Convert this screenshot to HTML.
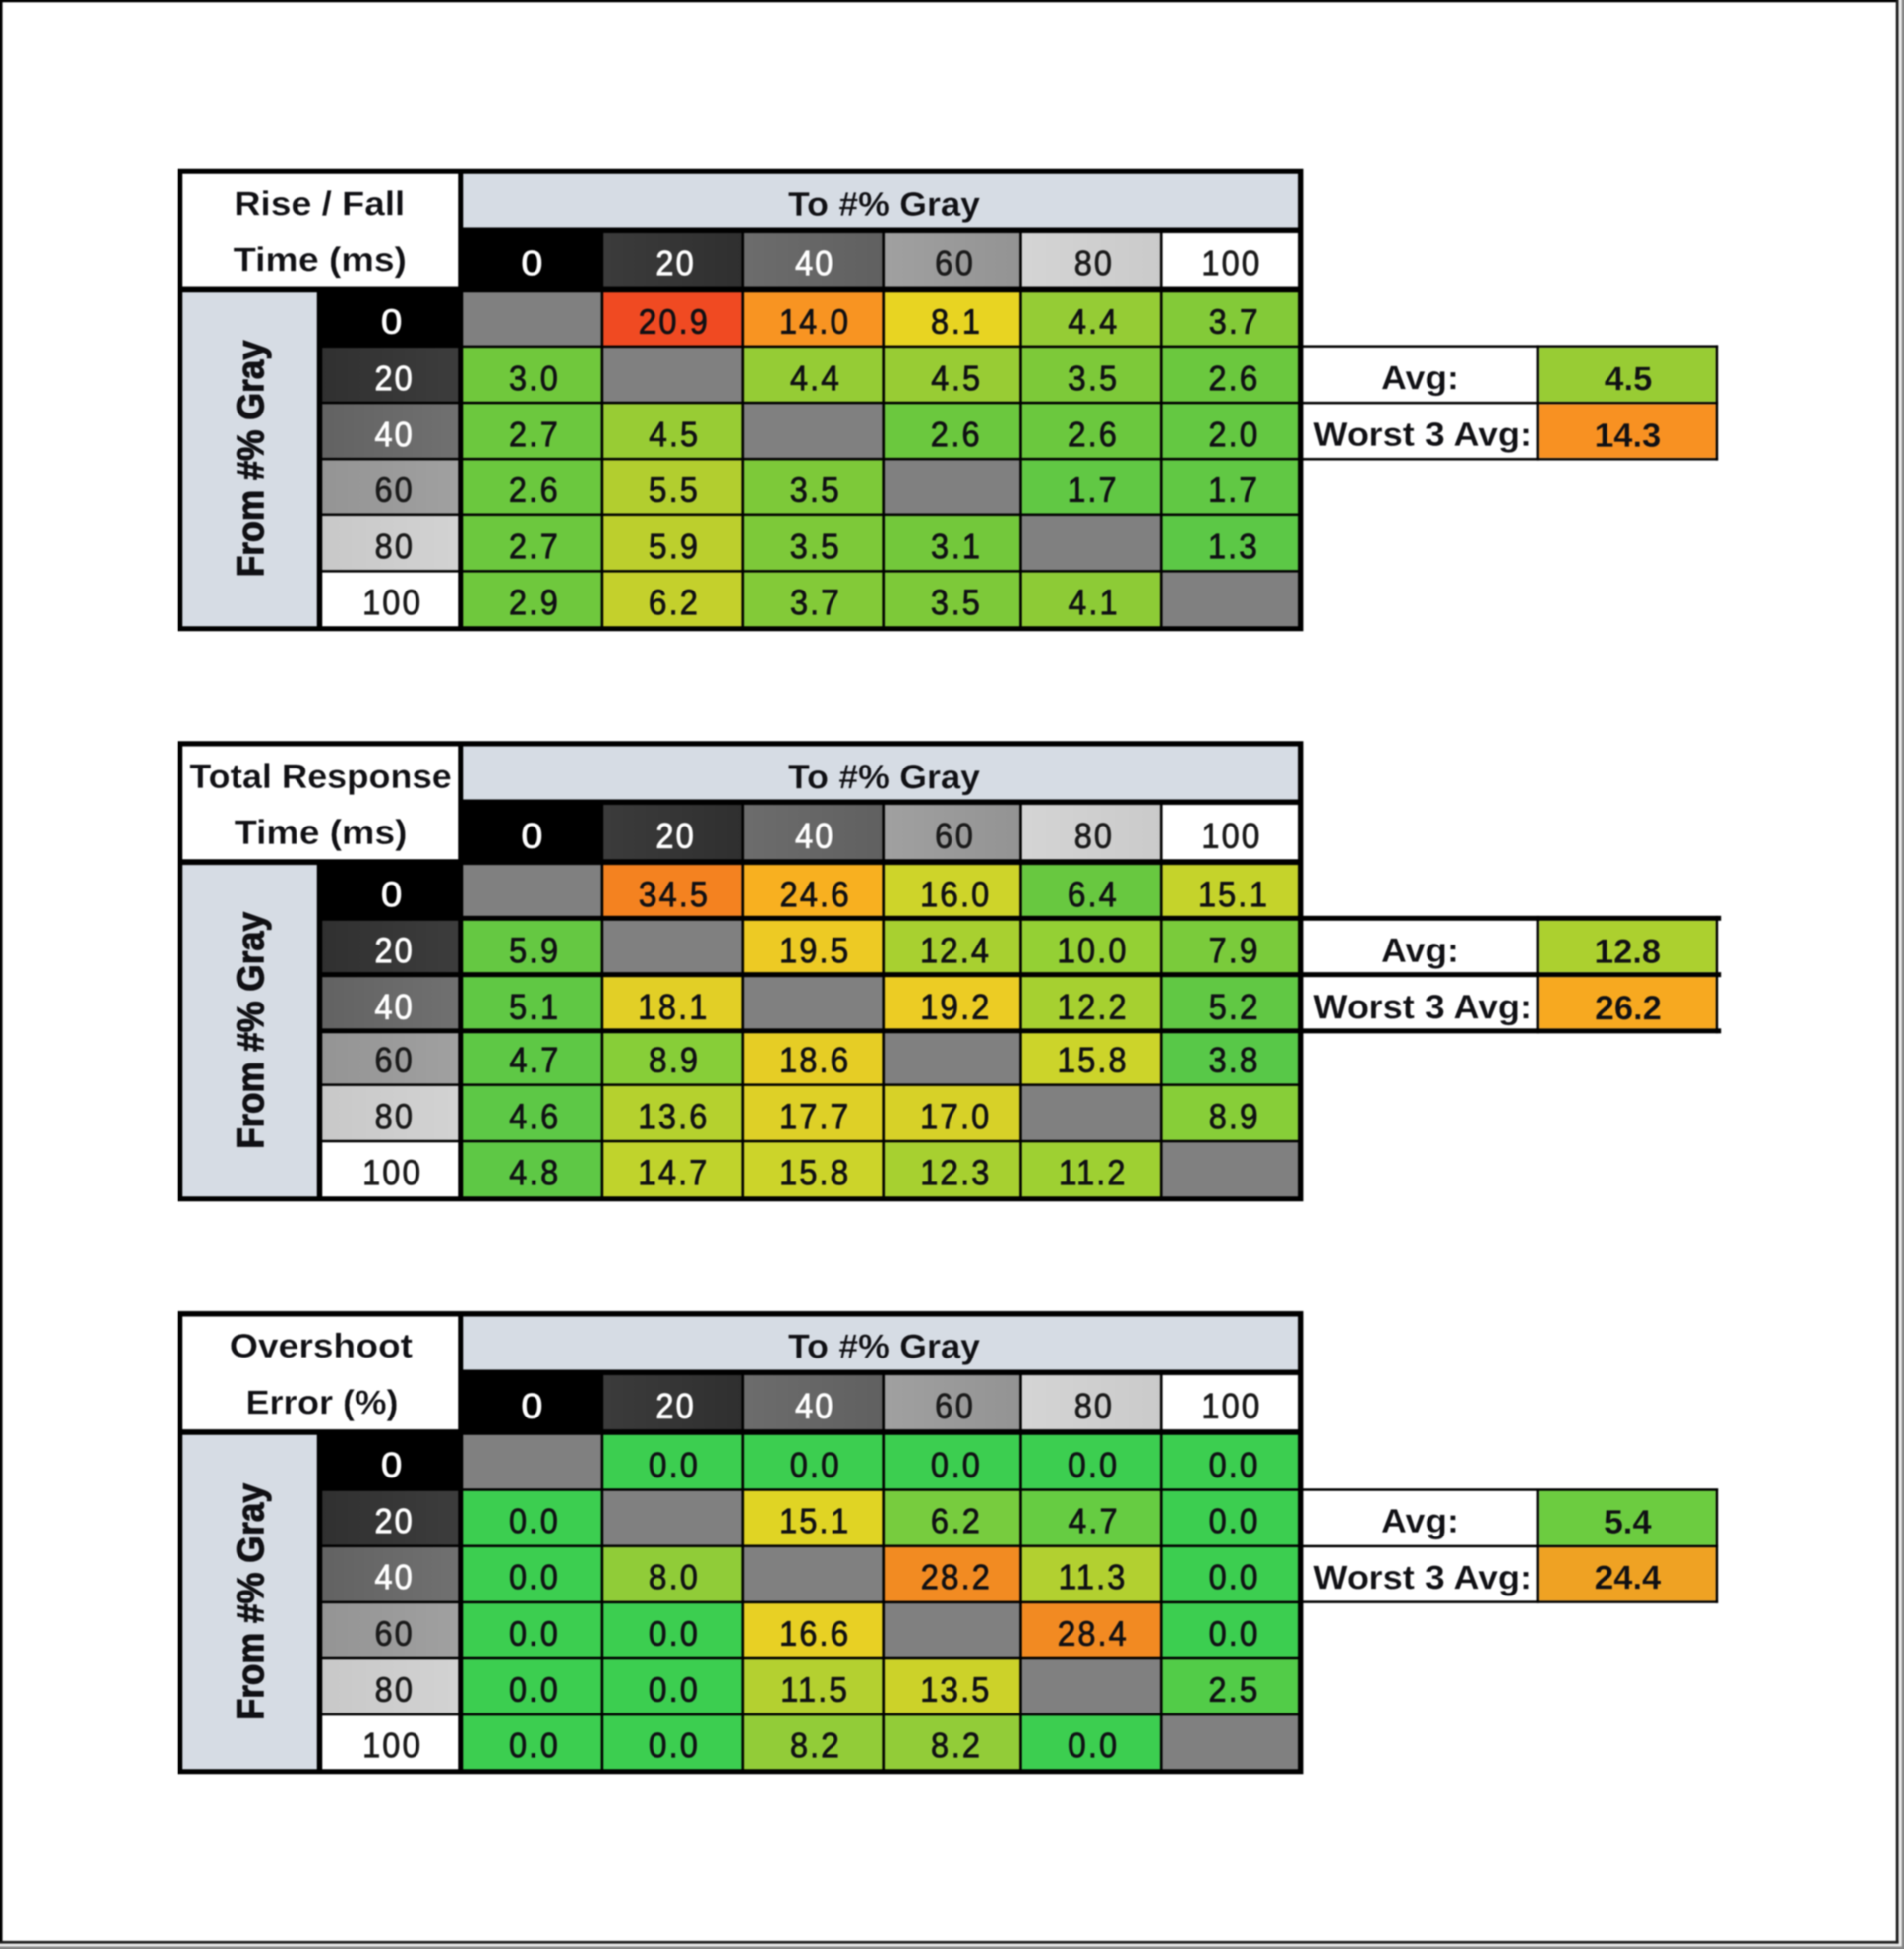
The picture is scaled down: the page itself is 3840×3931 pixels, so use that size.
<!DOCTYPE html>
<html><head><meta charset="utf-8"><title>Response time tables</title>
<style>
html,body{margin:0;padding:0;background:#fff;}
html,body{width:3840px;height:3931px;overflow:hidden;}
#sheet{position:absolute;left:0;top:0;width:3840px;height:3931px;overflow:hidden;background:#fff;}
svg{position:absolute;left:-40px;top:-40px;display:block;filter:blur(1.6px);}
text{font-family:"Liberation Sans",Arial,sans-serif;}
</style></head><body>
<div id="sheet">
<svg width="3920" height="4011" viewBox="-40 -40 3920 4011">
<rect x="-40" y="-40" width="3920" height="4011" fill="#FFFFFF"/>
<!-- frame -->
<rect x="3829" y="-40" width="51" height="4011" fill="#E9E9E9"/>
<rect x="-40" y="3920" width="3920" height="51" fill="#E9E9E9"/>
<rect x="3835" y="-40" width="45" height="4011" fill="#868686"/>
<rect x="-40" y="3925.5" width="3920" height="45.5" fill="#868686"/>
<rect x="-40" y="-40" width="3868" height="45" fill="#000"/>
<rect x="-40" y="-40" width="45.5" height="3959" fill="#000"/>
<rect x="3823" y="-40" width="5.5" height="3959.5" fill="#1c1c1c"/>
<rect x="-40" y="3914.3" width="3868.5" height="5.4" fill="#1c1c1c"/>
<defs><linearGradient id="gr1" x1="0" y1="0" x2="1" y2="0"><stop offset="0" stop-color="#303030"/><stop offset="1" stop-color="#3C3C3C"/></linearGradient><linearGradient id="gc1" x1="0" y1="0" x2="1" y2="0"><stop offset="0" stop-color="#3B3B3B"/><stop offset="1" stop-color="#2F2F2F"/></linearGradient><linearGradient id="gr2" x1="0" y1="0" x2="1" y2="0"><stop offset="0" stop-color="#626262"/><stop offset="1" stop-color="#707070"/></linearGradient><linearGradient id="gc2" x1="0" y1="0" x2="1" y2="0"><stop offset="0" stop-color="#6C6C6C"/><stop offset="1" stop-color="#606060"/></linearGradient><linearGradient id="gr3" x1="0" y1="0" x2="1" y2="0"><stop offset="0" stop-color="#949494"/><stop offset="1" stop-color="#A0A0A0"/></linearGradient><linearGradient id="gc3" x1="0" y1="0" x2="1" y2="0"><stop offset="0" stop-color="#A0A0A0"/><stop offset="1" stop-color="#939393"/></linearGradient><linearGradient id="gr4" x1="0" y1="0" x2="1" y2="0"><stop offset="0" stop-color="#C8C8C8"/><stop offset="1" stop-color="#D2D2D2"/></linearGradient><linearGradient id="gc4" x1="0" y1="0" x2="1" y2="0"><stop offset="0" stop-color="#D4D4D4"/><stop offset="1" stop-color="#CACACA"/></linearGradient></defs>
<rect x="358.0" y="340.0" width="2270.3" height="933.0" fill="#000"/>
<rect x="368.0" y="350.0" width="556.0" height="227.6" fill="#FFF"/>
<rect x="934.0" y="350.0" width="1683.5" height="108.5" fill="#D6DCE4"/>
<rect x="934.0" y="469.5" width="277.7" height="108.1" fill="#000000"/>
<text transform="translate(1051.4,554.6) scale(1.1000,1)" font-size="69.5" letter-spacing="4.5" fill="#FFFFFF" stroke="#FFFFFF" stroke-width="1.7">0</text>
<rect x="1216.9" y="469.5" width="278.5" height="108.1" fill="url(#gc1)"/>
<text transform="translate(1322.3,554.6) scale(0.9350,1)" font-size="69.5" letter-spacing="4.5" fill="#FFFFFF" stroke="#FFFFFF" stroke-width="1.7">20</text>
<rect x="1500.6" y="469.5" width="278.7" height="108.1" fill="url(#gc2)"/>
<text transform="translate(1603.7,554.6) scale(0.9350,1)" font-size="69.5" letter-spacing="4.5" fill="#FFFFFF" stroke="#FFFFFF" stroke-width="1.7">40</text>
<rect x="1784.5" y="469.5" width="271.3" height="108.1" fill="url(#gc3)"/>
<text transform="translate(1885.7,554.6) scale(0.9350,1)" font-size="69.5" letter-spacing="4.5" fill="#1A1A1A" stroke="#1A1A1A" stroke-width="1.5">60</text>
<rect x="2061.0" y="469.5" width="278.4" height="108.1" fill="url(#gc4)"/>
<text transform="translate(2166.0,554.6) scale(0.9350,1)" font-size="69.5" letter-spacing="4.5" fill="#1A1A1A" stroke="#1A1A1A" stroke-width="1.5">80</text>
<rect x="2344.6" y="469.5" width="272.9" height="108.1" fill="#FFFFFF"/>
<text transform="translate(2423.3,554.6) scale(0.9350,1)" font-size="69.5" letter-spacing="4.5" fill="#1A1A1A" stroke="#1A1A1A" stroke-width="1.5">100</text>
<rect x="368.0" y="589.0" width="271.0" height="674.0" fill="#D6DCE4"/>
<rect x="650.0" y="589.0" width="274.0" height="107.7" fill="#000000"/>
<text transform="translate(768.6,673.3) scale(1.1000,1)" font-size="69.5" letter-spacing="4.5" fill="#FFFFFF" stroke="#FFFFFF" stroke-width="1.7">0</text>
<rect x="934.0" y="589.0" width="277.7" height="107.7" fill="#808080"/>
<rect x="1216.9" y="589.0" width="278.5" height="107.7" fill="#F04A22"/>
<text transform="translate(1288.0,673.3) scale(0.9350,1)" font-size="69.5" letter-spacing="4.5" fill="#101014" stroke="#101014" stroke-width="1.5">20.9</text>
<rect x="1500.6" y="589.0" width="278.7" height="107.7" fill="#F89422"/>
<text transform="translate(1571.5,673.3) scale(0.9350,1)" font-size="69.5" letter-spacing="4.5" fill="#101014" stroke="#101014" stroke-width="1.5">14.0</text>
<rect x="1784.5" y="589.0" width="271.3" height="107.7" fill="#E8D422"/>
<text transform="translate(1877.6,673.3) scale(0.9350,1)" font-size="69.5" letter-spacing="4.5" fill="#101014" stroke="#101014" stroke-width="1.5">8.1</text>
<rect x="2061.0" y="589.0" width="278.4" height="107.7" fill="#95CC35"/>
<text transform="translate(2154.2,673.3) scale(0.9350,1)" font-size="69.5" letter-spacing="4.5" fill="#101014" stroke="#101014" stroke-width="1.5">4.4</text>
<rect x="2344.6" y="589.0" width="272.9" height="107.7" fill="#83CA38"/>
<text transform="translate(2438.0,673.3) scale(0.9350,1)" font-size="69.5" letter-spacing="4.5" fill="#101014" stroke="#101014" stroke-width="1.5">3.7</text>
<rect x="650.0" y="701.7" width="274.0" height="108.4" fill="url(#gr1)"/>
<text transform="translate(755.5,786.7) scale(0.9350,1)" font-size="69.5" letter-spacing="4.5" fill="#FFFFFF" stroke="#FFFFFF" stroke-width="1.7">20</text>
<rect x="934.0" y="701.7" width="277.7" height="108.4" fill="#70C83C"/>
<text transform="translate(1026.5,786.7) scale(0.9350,1)" font-size="69.5" letter-spacing="4.5" fill="#101014" stroke="#101014" stroke-width="1.5">3.0</text>
<rect x="1216.9" y="701.7" width="278.5" height="108.4" fill="#808080"/>
<rect x="1500.6" y="701.7" width="278.7" height="108.4" fill="#95CC35"/>
<text transform="translate(1593.4,786.7) scale(0.9350,1)" font-size="69.5" letter-spacing="4.5" fill="#101014" stroke="#101014" stroke-width="1.5">4.4</text>
<rect x="1784.5" y="701.7" width="271.3" height="108.4" fill="#98CC34"/>
<text transform="translate(1877.9,786.7) scale(0.9350,1)" font-size="69.5" letter-spacing="4.5" fill="#101014" stroke="#101014" stroke-width="1.5">4.5</text>
<rect x="2061.0" y="701.7" width="278.4" height="108.4" fill="#7DC939"/>
<text transform="translate(2153.8,786.7) scale(0.9350,1)" font-size="69.5" letter-spacing="4.5" fill="#101014" stroke="#101014" stroke-width="1.5">3.5</text>
<rect x="2344.6" y="701.7" width="272.9" height="108.4" fill="#6BC83E"/>
<text transform="translate(2437.4,786.7) scale(0.9350,1)" font-size="69.5" letter-spacing="4.5" fill="#101014" stroke="#101014" stroke-width="1.5">2.6</text>
<rect x="650.0" y="815.1" width="274.0" height="108.2" fill="url(#gr2)"/>
<text transform="translate(755.5,899.9) scale(0.9350,1)" font-size="69.5" letter-spacing="4.5" fill="#FFFFFF" stroke="#FFFFFF" stroke-width="1.7">40</text>
<rect x="934.0" y="815.1" width="277.7" height="108.2" fill="#6CC83E"/>
<text transform="translate(1026.5,899.9) scale(0.9350,1)" font-size="69.5" letter-spacing="4.5" fill="#101014" stroke="#101014" stroke-width="1.5">2.7</text>
<rect x="1216.9" y="815.1" width="278.5" height="108.2" fill="#98CC34"/>
<text transform="translate(1308.9,899.9) scale(0.9350,1)" font-size="69.5" letter-spacing="4.5" fill="#101014" stroke="#101014" stroke-width="1.5">4.5</text>
<rect x="1500.6" y="815.1" width="278.7" height="108.2" fill="#808080"/>
<rect x="1784.5" y="815.1" width="271.3" height="108.2" fill="#6BC83E"/>
<text transform="translate(1877.0,899.9) scale(0.9350,1)" font-size="69.5" letter-spacing="4.5" fill="#101014" stroke="#101014" stroke-width="1.5">2.6</text>
<rect x="2061.0" y="815.1" width="278.4" height="108.2" fill="#6BC83E"/>
<text transform="translate(2153.5,899.9) scale(0.9350,1)" font-size="69.5" letter-spacing="4.5" fill="#101014" stroke="#101014" stroke-width="1.5">2.6</text>
<rect x="2344.6" y="815.1" width="272.9" height="108.2" fill="#64C842"/>
<text transform="translate(2437.4,899.9) scale(0.9350,1)" font-size="69.5" letter-spacing="4.5" fill="#101014" stroke="#101014" stroke-width="1.5">2.0</text>
<rect x="650.0" y="928.3" width="274.0" height="107.2" fill="url(#gr3)"/>
<text transform="translate(755.5,1012.1) scale(0.9350,1)" font-size="69.5" letter-spacing="4.5" fill="#1A1A1A" stroke="#1A1A1A" stroke-width="1.5">60</text>
<rect x="934.0" y="928.3" width="277.7" height="107.2" fill="#6BC83E"/>
<text transform="translate(1026.2,1012.1) scale(0.9350,1)" font-size="69.5" letter-spacing="4.5" fill="#101014" stroke="#101014" stroke-width="1.5">2.6</text>
<rect x="1216.9" y="928.3" width="278.5" height="107.2" fill="#B2CE2F"/>
<text transform="translate(1308.3,1012.1) scale(0.9350,1)" font-size="69.5" letter-spacing="4.5" fill="#101014" stroke="#101014" stroke-width="1.5">5.5</text>
<rect x="1500.6" y="928.3" width="278.7" height="107.2" fill="#7DC939"/>
<text transform="translate(1593.1,1012.1) scale(0.9350,1)" font-size="69.5" letter-spacing="4.5" fill="#101014" stroke="#101014" stroke-width="1.5">3.5</text>
<rect x="1784.5" y="928.3" width="271.3" height="107.2" fill="#808080"/>
<rect x="2061.0" y="928.3" width="278.4" height="107.2" fill="#61C844"/>
<text transform="translate(2152.9,1012.1) scale(0.9350,1)" font-size="69.5" letter-spacing="4.5" fill="#101014" stroke="#101014" stroke-width="1.5">1.7</text>
<rect x="2344.6" y="928.3" width="272.9" height="107.2" fill="#61C844"/>
<text transform="translate(2436.7,1012.1) scale(0.9350,1)" font-size="69.5" letter-spacing="4.5" fill="#101014" stroke="#101014" stroke-width="1.5">1.7</text>
<rect x="650.0" y="1040.5" width="274.0" height="109.2" fill="url(#gr4)"/>
<text transform="translate(755.8,1126.3) scale(0.9350,1)" font-size="69.5" letter-spacing="4.5" fill="#1A1A1A" stroke="#1A1A1A" stroke-width="1.5">80</text>
<rect x="934.0" y="1040.5" width="277.7" height="109.2" fill="#6CC83E"/>
<text transform="translate(1026.5,1126.3) scale(0.9350,1)" font-size="69.5" letter-spacing="4.5" fill="#101014" stroke="#101014" stroke-width="1.5">2.7</text>
<rect x="1216.9" y="1040.5" width="278.5" height="109.2" fill="#BCCF2D"/>
<text transform="translate(1308.6,1126.3) scale(0.9350,1)" font-size="69.5" letter-spacing="4.5" fill="#101014" stroke="#101014" stroke-width="1.5">5.9</text>
<rect x="1500.6" y="1040.5" width="278.7" height="109.2" fill="#7DC939"/>
<text transform="translate(1593.1,1126.3) scale(0.9350,1)" font-size="69.5" letter-spacing="4.5" fill="#101014" stroke="#101014" stroke-width="1.5">3.5</text>
<rect x="1784.5" y="1040.5" width="271.3" height="109.2" fill="#73C83B"/>
<text transform="translate(1877.6,1126.3) scale(0.9350,1)" font-size="69.5" letter-spacing="4.5" fill="#101014" stroke="#101014" stroke-width="1.5">3.1</text>
<rect x="2061.0" y="1040.5" width="278.4" height="109.2" fill="#808080"/>
<rect x="2344.6" y="1040.5" width="272.9" height="109.2" fill="#5CC846"/>
<text transform="translate(2436.4,1126.3) scale(0.9350,1)" font-size="69.5" letter-spacing="4.5" fill="#101014" stroke="#101014" stroke-width="1.5">1.3</text>
<rect x="650.0" y="1154.7" width="274.0" height="108.3" fill="#FFFFFF"/>
<text transform="translate(730.7,1238.7) scale(0.9350,1)" font-size="69.5" letter-spacing="4.5" fill="#1A1A1A" stroke="#1A1A1A" stroke-width="1.5">100</text>
<rect x="934.0" y="1154.7" width="277.7" height="108.3" fill="#6FC83D"/>
<text transform="translate(1026.5,1238.7) scale(0.9350,1)" font-size="69.5" letter-spacing="4.5" fill="#101014" stroke="#101014" stroke-width="1.5">2.9</text>
<rect x="1216.9" y="1154.7" width="278.5" height="108.3" fill="#C4D02C"/>
<text transform="translate(1308.3,1238.7) scale(0.9350,1)" font-size="69.5" letter-spacing="4.5" fill="#101014" stroke="#101014" stroke-width="1.5">6.2</text>
<rect x="1500.6" y="1154.7" width="278.7" height="108.3" fill="#83CA38"/>
<text transform="translate(1593.4,1238.7) scale(0.9350,1)" font-size="69.5" letter-spacing="4.5" fill="#101014" stroke="#101014" stroke-width="1.5">3.7</text>
<rect x="1784.5" y="1154.7" width="271.3" height="108.3" fill="#7DC939"/>
<text transform="translate(1877.3,1238.7) scale(0.9350,1)" font-size="69.5" letter-spacing="4.5" fill="#101014" stroke="#101014" stroke-width="1.5">3.5</text>
<rect x="2061.0" y="1154.7" width="278.4" height="108.3" fill="#8DCB36"/>
<text transform="translate(2154.8,1238.7) scale(0.9350,1)" font-size="69.5" letter-spacing="4.5" fill="#101014" stroke="#101014" stroke-width="1.5">4.1</text>
<rect x="2344.6" y="1154.7" width="272.9" height="108.3" fill="#808080"/>
<text transform="translate(472.3,433.5) scale(1.0702,1)" font-size="69.0" fill="#101014" font-weight="bold" stroke="#FFFFFF" stroke-width="0.5">Rise / Fall</text>
<text transform="translate(470.8,547.0) scale(1.0768,1)" font-size="69.0" fill="#101014" font-weight="bold" stroke="#FFFFFF" stroke-width="0.5">Time (ms)</text>
<text transform="translate(1589.6,434.5) scale(1.0332,1)" font-size="69.0" fill="#101014" font-weight="bold" stroke="#D6DCE4" stroke-width="0.5">To #% Gray</text>
<text transform="translate(530.8,1164.1) rotate(-90) scale(0.9331,1)" font-size="75.5" font-weight="bold" fill="#101014" stroke="#101014" stroke-width="2.0">From #% Gray</text>
<rect x="2627.3" y="696.3" width="837.5" height="5.0" fill="#000"/>
<rect x="2627.3" y="810.3" width="837.5" height="5.0" fill="#000"/>
<rect x="2627.3" y="923.5" width="837.5" height="5.0" fill="#000"/>
<rect x="3098.6" y="696.3" width="5.0" height="232.2" fill="#000"/>
<rect x="3459.8" y="696.3" width="5.0" height="232.2" fill="#000"/>
<rect x="3103.6" y="701.3" width="356.2" height="109.0" fill="#98CC34"/>
<text transform="translate(3236.1,787.0) scale(1.0000,1)" font-size="69.0" fill="#101014" font-weight="bold" stroke="#98CC34" stroke-width="0.5">4.5</text>
<text transform="translate(2785.4,785.3) scale(1.0405,1)" font-size="69.0" fill="#101014" font-weight="bold" stroke="#FFFFFF" stroke-width="0.5">Avg:</text>
<rect x="3103.6" y="815.3" width="356.2" height="108.2" fill="#F89122"/>
<text transform="translate(3215.7,900.5) scale(1.0000,1)" font-size="69.0" fill="#101014" font-weight="bold" stroke="#F89122" stroke-width="0.5">14.3</text>
<text transform="translate(2649.0,898.7) scale(1.0518,1)" font-size="69.0" fill="#101014" font-weight="bold" stroke="#FFFFFF" stroke-width="0.5">Worst 3 Avg:</text>
<rect x="358.0" y="1495.0" width="2270.3" height="928.0" fill="#000"/>
<rect x="368.0" y="1505.5" width="556.0" height="227.5" fill="#FFF"/>
<rect x="934.0" y="1505.5" width="1683.5" height="107.0" fill="#D6DCE4"/>
<rect x="934.0" y="1623.5" width="277.7" height="109.5" fill="#000000"/>
<text transform="translate(1051.4,1710.0) scale(1.1000,1)" font-size="69.5" letter-spacing="4.5" fill="#FFFFFF" stroke="#FFFFFF" stroke-width="1.7">0</text>
<rect x="1216.9" y="1623.5" width="278.5" height="109.5" fill="url(#gc1)"/>
<text transform="translate(1322.3,1710.0) scale(0.9350,1)" font-size="69.5" letter-spacing="4.5" fill="#FFFFFF" stroke="#FFFFFF" stroke-width="1.7">20</text>
<rect x="1500.6" y="1623.5" width="278.7" height="109.5" fill="url(#gc2)"/>
<text transform="translate(1603.7,1710.0) scale(0.9350,1)" font-size="69.5" letter-spacing="4.5" fill="#FFFFFF" stroke="#FFFFFF" stroke-width="1.7">40</text>
<rect x="1784.5" y="1623.5" width="271.3" height="109.5" fill="url(#gc3)"/>
<text transform="translate(1885.7,1710.0) scale(0.9350,1)" font-size="69.5" letter-spacing="4.5" fill="#1A1A1A" stroke="#1A1A1A" stroke-width="1.5">60</text>
<rect x="2061.0" y="1623.5" width="278.4" height="109.5" fill="url(#gc4)"/>
<text transform="translate(2166.0,1710.0) scale(0.9350,1)" font-size="69.5" letter-spacing="4.5" fill="#1A1A1A" stroke="#1A1A1A" stroke-width="1.5">80</text>
<rect x="2344.6" y="1623.5" width="272.9" height="109.5" fill="#FFFFFF"/>
<text transform="translate(2423.3,1710.0) scale(0.9350,1)" font-size="69.5" letter-spacing="4.5" fill="#1A1A1A" stroke="#1A1A1A" stroke-width="1.5">100</text>
<rect x="368.0" y="1744.6" width="271.0" height="668.4" fill="#D6DCE4"/>
<rect x="650.0" y="1744.6" width="274.0" height="102.5" fill="#000000"/>
<text transform="translate(768.6,1827.8) scale(1.1000,1)" font-size="69.5" letter-spacing="4.5" fill="#FFFFFF" stroke="#FFFFFF" stroke-width="1.7">0</text>
<rect x="934.0" y="1744.6" width="277.7" height="102.5" fill="#808080"/>
<rect x="1216.9" y="1744.6" width="278.5" height="102.5" fill="#F48220"/>
<text transform="translate(1288.3,1827.8) scale(0.9350,1)" font-size="69.5" letter-spacing="4.5" fill="#101014" stroke="#101014" stroke-width="1.5">34.5</text>
<rect x="1500.6" y="1744.6" width="278.7" height="102.5" fill="#F8B020"/>
<text transform="translate(1572.8,1827.8) scale(0.9350,1)" font-size="69.5" letter-spacing="4.5" fill="#101014" stroke="#101014" stroke-width="1.5">24.6</text>
<rect x="1784.5" y="1744.6" width="271.3" height="102.5" fill="#CED42A"/>
<text transform="translate(1855.7,1827.8) scale(0.9350,1)" font-size="69.5" letter-spacing="4.5" fill="#101014" stroke="#101014" stroke-width="1.5">16.0</text>
<rect x="2061.0" y="1744.6" width="278.4" height="102.5" fill="#68C840"/>
<text transform="translate(2153.2,1827.8) scale(0.9350,1)" font-size="69.5" letter-spacing="4.5" fill="#101014" stroke="#101014" stroke-width="1.5">6.4</text>
<rect x="2344.6" y="1744.6" width="272.9" height="102.5" fill="#C5D32B"/>
<text transform="translate(2416.4,1827.8) scale(0.9350,1)" font-size="69.5" letter-spacing="4.5" fill="#101014" stroke="#101014" stroke-width="1.5">15.1</text>
<rect x="650.0" y="1857.1" width="274.0" height="103.6" fill="url(#gr1)"/>
<text transform="translate(755.5,1941.4) scale(0.9350,1)" font-size="69.5" letter-spacing="4.5" fill="#FFFFFF" stroke="#FFFFFF" stroke-width="1.7">20</text>
<rect x="934.0" y="1857.1" width="277.7" height="103.6" fill="#65C842"/>
<text transform="translate(1026.8,1941.4) scale(0.9350,1)" font-size="69.5" letter-spacing="4.5" fill="#101014" stroke="#101014" stroke-width="1.5">5.9</text>
<rect x="1216.9" y="1857.1" width="278.5" height="103.6" fill="#808080"/>
<rect x="1500.6" y="1857.1" width="278.7" height="103.6" fill="#EDCA24"/>
<text transform="translate(1571.8,1941.4) scale(0.9350,1)" font-size="69.5" letter-spacing="4.5" fill="#101014" stroke="#101014" stroke-width="1.5">19.5</text>
<rect x="1784.5" y="1857.1" width="271.3" height="103.6" fill="#A8D030"/>
<text transform="translate(1855.4,1941.4) scale(0.9350,1)" font-size="69.5" letter-spacing="4.5" fill="#101014" stroke="#101014" stroke-width="1.5">12.4</text>
<rect x="2061.0" y="1857.1" width="278.4" height="103.6" fill="#94D034"/>
<text transform="translate(2132.2,1941.4) scale(0.9350,1)" font-size="69.5" letter-spacing="4.5" fill="#101014" stroke="#101014" stroke-width="1.5">10.0</text>
<rect x="2344.6" y="1857.1" width="272.9" height="103.6" fill="#7ACB3B"/>
<text transform="translate(2437.7,1941.4) scale(0.9350,1)" font-size="69.5" letter-spacing="4.5" fill="#101014" stroke="#101014" stroke-width="1.5">7.9</text>
<rect x="650.0" y="1970.8" width="274.0" height="103.4" fill="url(#gr2)"/>
<text transform="translate(755.5,2054.9) scale(0.9350,1)" font-size="69.5" letter-spacing="4.5" fill="#FFFFFF" stroke="#FFFFFF" stroke-width="1.7">40</text>
<rect x="934.0" y="1970.8" width="277.7" height="103.4" fill="#60C844"/>
<text transform="translate(1026.8,2054.9) scale(0.9350,1)" font-size="69.5" letter-spacing="4.5" fill="#101014" stroke="#101014" stroke-width="1.5">5.1</text>
<rect x="1216.9" y="1970.8" width="278.5" height="103.4" fill="#E2CF26"/>
<text transform="translate(1287.0,2054.9) scale(0.9350,1)" font-size="69.5" letter-spacing="4.5" fill="#101014" stroke="#101014" stroke-width="1.5">18.1</text>
<rect x="1500.6" y="1970.8" width="278.7" height="103.4" fill="#808080"/>
<rect x="1784.5" y="1970.8" width="271.3" height="103.4" fill="#ECCC24"/>
<text transform="translate(1856.0,2054.9) scale(0.9350,1)" font-size="69.5" letter-spacing="4.5" fill="#101014" stroke="#101014" stroke-width="1.5">19.2</text>
<rect x="2061.0" y="1970.8" width="278.4" height="103.4" fill="#A6D030"/>
<text transform="translate(2132.6,2054.9) scale(0.9350,1)" font-size="69.5" letter-spacing="4.5" fill="#101014" stroke="#101014" stroke-width="1.5">12.2</text>
<rect x="2344.6" y="1970.8" width="272.9" height="103.4" fill="#61C844"/>
<text transform="translate(2438.0,2054.9) scale(0.9350,1)" font-size="69.5" letter-spacing="4.5" fill="#101014" stroke="#101014" stroke-width="1.5">5.2</text>
<rect x="650.0" y="2084.0" width="274.0" height="101.3" fill="url(#gr3)"/>
<text transform="translate(755.5,2161.9) scale(0.9350,1)" font-size="69.5" letter-spacing="4.5" fill="#1A1A1A" stroke="#1A1A1A" stroke-width="1.5">60</text>
<rect x="934.0" y="2084.0" width="277.7" height="101.3" fill="#5EC845"/>
<text transform="translate(1027.5,2161.9) scale(0.9350,1)" font-size="69.5" letter-spacing="4.5" fill="#101014" stroke="#101014" stroke-width="1.5">4.7</text>
<rect x="1216.9" y="2084.0" width="278.5" height="101.3" fill="#87CE38"/>
<text transform="translate(1308.6,2161.9) scale(0.9350,1)" font-size="69.5" letter-spacing="4.5" fill="#101014" stroke="#101014" stroke-width="1.5">8.9</text>
<rect x="1500.6" y="2084.0" width="278.7" height="101.3" fill="#E6CD25"/>
<text transform="translate(1571.8,2161.9) scale(0.9350,1)" font-size="69.5" letter-spacing="4.5" fill="#101014" stroke="#101014" stroke-width="1.5">18.6</text>
<rect x="1784.5" y="2084.0" width="271.3" height="101.3" fill="#808080"/>
<rect x="2061.0" y="2084.0" width="278.4" height="101.3" fill="#CCD42A"/>
<text transform="translate(2132.6,2161.9) scale(0.9350,1)" font-size="69.5" letter-spacing="4.5" fill="#101014" stroke="#101014" stroke-width="1.5">15.8</text>
<rect x="2344.6" y="2084.0" width="272.9" height="101.3" fill="#58C848"/>
<text transform="translate(2437.7,2161.9) scale(0.9350,1)" font-size="69.5" letter-spacing="4.5" fill="#101014" stroke="#101014" stroke-width="1.5">3.8</text>
<rect x="650.0" y="2190.3" width="274.0" height="108.8" fill="url(#gr4)"/>
<text transform="translate(755.8,2275.7) scale(0.9350,1)" font-size="69.5" letter-spacing="4.5" fill="#1A1A1A" stroke="#1A1A1A" stroke-width="1.5">80</text>
<rect x="934.0" y="2190.3" width="277.7" height="108.8" fill="#5DC846"/>
<text transform="translate(1027.1,2275.7) scale(0.9350,1)" font-size="69.5" letter-spacing="4.5" fill="#101014" stroke="#101014" stroke-width="1.5">4.6</text>
<rect x="1216.9" y="2190.3" width="278.5" height="108.8" fill="#B5D12E"/>
<text transform="translate(1287.0,2275.7) scale(0.9350,1)" font-size="69.5" letter-spacing="4.5" fill="#101014" stroke="#101014" stroke-width="1.5">13.6</text>
<rect x="1500.6" y="2190.3" width="278.7" height="108.8" fill="#DED027"/>
<text transform="translate(1571.8,2275.7) scale(0.9350,1)" font-size="69.5" letter-spacing="4.5" fill="#101014" stroke="#101014" stroke-width="1.5">17.7</text>
<rect x="1784.5" y="2190.3" width="271.3" height="108.8" fill="#D7D128"/>
<text transform="translate(1855.7,2275.7) scale(0.9350,1)" font-size="69.5" letter-spacing="4.5" fill="#101014" stroke="#101014" stroke-width="1.5">17.0</text>
<rect x="2061.0" y="2190.3" width="278.4" height="108.8" fill="#808080"/>
<rect x="2344.6" y="2190.3" width="272.9" height="108.8" fill="#87CE38"/>
<text transform="translate(2438.0,2275.7) scale(0.9350,1)" font-size="69.5" letter-spacing="4.5" fill="#101014" stroke="#101014" stroke-width="1.5">8.9</text>
<rect x="650.0" y="2304.1" width="274.0" height="108.9" fill="#FFFFFF"/>
<text transform="translate(730.7,2388.7) scale(0.9350,1)" font-size="69.5" letter-spacing="4.5" fill="#1A1A1A" stroke="#1A1A1A" stroke-width="1.5">100</text>
<rect x="934.0" y="2304.1" width="277.7" height="108.9" fill="#5EC845"/>
<text transform="translate(1027.1,2388.7) scale(0.9350,1)" font-size="69.5" letter-spacing="4.5" fill="#101014" stroke="#101014" stroke-width="1.5">4.8</text>
<rect x="1216.9" y="2304.1" width="278.5" height="108.9" fill="#C0D32C"/>
<text transform="translate(1287.0,2388.7) scale(0.9350,1)" font-size="69.5" letter-spacing="4.5" fill="#101014" stroke="#101014" stroke-width="1.5">14.7</text>
<rect x="1500.6" y="2304.1" width="278.7" height="108.9" fill="#CCD42A"/>
<text transform="translate(1571.8,2388.7) scale(0.9350,1)" font-size="69.5" letter-spacing="4.5" fill="#101014" stroke="#101014" stroke-width="1.5">15.8</text>
<rect x="1784.5" y="2304.1" width="271.3" height="108.9" fill="#A7D030"/>
<text transform="translate(1856.0,2388.7) scale(0.9350,1)" font-size="69.5" letter-spacing="4.5" fill="#101014" stroke="#101014" stroke-width="1.5">12.3</text>
<rect x="2061.0" y="2304.1" width="278.4" height="108.9" fill="#9ED032"/>
<text transform="translate(2135.2,2388.7) scale(0.9350,1)" font-size="69.5" letter-spacing="4.5" fill="#101014" stroke="#101014" stroke-width="1.5">11.2</text>
<rect x="2344.6" y="2304.1" width="272.9" height="108.9" fill="#808080"/>
<text transform="translate(382.2,1588.5) scale(1.0398,1)" font-size="69.0" fill="#101014" font-weight="bold" stroke="#FFFFFF" stroke-width="0.5">Total Response</text>
<text transform="translate(472.9,1702.0) scale(1.0734,1)" font-size="69.0" fill="#101014" font-weight="bold" stroke="#FFFFFF" stroke-width="0.5">Time (ms)</text>
<text transform="translate(1589.6,1589.5) scale(1.0332,1)" font-size="69.0" fill="#101014" font-weight="bold" stroke="#D6DCE4" stroke-width="0.5">To #% Gray</text>
<text transform="translate(530.8,2316.9) rotate(-90) scale(0.9331,1)" font-size="75.5" font-weight="bold" fill="#101014" stroke="#101014" stroke-width="2.0">From #% Gray</text>
<rect x="2627.3" y="1847.1" width="843.5" height="10.0" fill="#000"/>
<rect x="2627.3" y="1960.7" width="843.5" height="10.1" fill="#000"/>
<rect x="2627.3" y="2074.2" width="843.5" height="10.0" fill="#000"/>
<rect x="3098.6" y="1847.1" width="5.0" height="237.1" fill="#000"/>
<rect x="3459.8" y="1847.1" width="5.0" height="237.1" fill="#000"/>
<rect x="3103.6" y="1857.1" width="356.2" height="103.6" fill="#ACD02F"/>
<text transform="translate(3215.4,1942.1) scale(1.0000,1)" font-size="69.0" fill="#101014" font-weight="bold" stroke="#ACD02F" stroke-width="0.5">12.8</text>
<text transform="translate(2785.4,1940.3) scale(1.0405,1)" font-size="69.0" fill="#101014" font-weight="bold" stroke="#FFFFFF" stroke-width="0.5">Avg:</text>
<rect x="3103.6" y="1970.8" width="356.2" height="103.4" fill="#F7A920"/>
<text transform="translate(3216.8,2055.5) scale(1.0000,1)" font-size="69.0" fill="#101014" font-weight="bold" stroke="#F7A920" stroke-width="0.5">26.2</text>
<text transform="translate(2649.0,2054.3) scale(1.0518,1)" font-size="69.0" fill="#101014" font-weight="bold" stroke="#FFFFFF" stroke-width="0.5">Worst 3 Avg:</text>
<rect x="358.0" y="2644.5" width="2270.3" height="934.5" fill="#000"/>
<rect x="368.0" y="2655.5" width="556.0" height="227.2" fill="#FFF"/>
<rect x="934.0" y="2655.5" width="1683.5" height="107.0" fill="#D6DCE4"/>
<rect x="934.0" y="2773.5" width="277.7" height="109.2" fill="#000000"/>
<text transform="translate(1051.4,2859.7) scale(1.1000,1)" font-size="69.5" letter-spacing="4.5" fill="#FFFFFF" stroke="#FFFFFF" stroke-width="1.7">0</text>
<rect x="1216.9" y="2773.5" width="278.5" height="109.2" fill="url(#gc1)"/>
<text transform="translate(1322.3,2859.7) scale(0.9350,1)" font-size="69.5" letter-spacing="4.5" fill="#FFFFFF" stroke="#FFFFFF" stroke-width="1.7">20</text>
<rect x="1500.6" y="2773.5" width="278.7" height="109.2" fill="url(#gc2)"/>
<text transform="translate(1603.7,2859.7) scale(0.9350,1)" font-size="69.5" letter-spacing="4.5" fill="#FFFFFF" stroke="#FFFFFF" stroke-width="1.7">40</text>
<rect x="1784.5" y="2773.5" width="271.3" height="109.2" fill="url(#gc3)"/>
<text transform="translate(1885.7,2859.7) scale(0.9350,1)" font-size="69.5" letter-spacing="4.5" fill="#1A1A1A" stroke="#1A1A1A" stroke-width="1.5">60</text>
<rect x="2061.0" y="2773.5" width="278.4" height="109.2" fill="url(#gc4)"/>
<text transform="translate(2166.0,2859.7) scale(0.9350,1)" font-size="69.5" letter-spacing="4.5" fill="#1A1A1A" stroke="#1A1A1A" stroke-width="1.5">80</text>
<rect x="2344.6" y="2773.5" width="272.9" height="109.2" fill="#FFFFFF"/>
<text transform="translate(2423.3,2859.7) scale(0.9350,1)" font-size="69.5" letter-spacing="4.5" fill="#1A1A1A" stroke="#1A1A1A" stroke-width="1.5">100</text>
<rect x="368.0" y="2894.0" width="271.0" height="674.0" fill="#D6DCE4"/>
<rect x="650.0" y="2894.0" width="274.0" height="108.0" fill="#000000"/>
<text transform="translate(768.6,2978.6) scale(1.1000,1)" font-size="69.5" letter-spacing="4.5" fill="#FFFFFF" stroke="#FFFFFF" stroke-width="1.7">0</text>
<rect x="934.0" y="2894.0" width="277.7" height="108.0" fill="#808080"/>
<rect x="1216.9" y="2894.0" width="278.5" height="108.0" fill="#3CCE50"/>
<text transform="translate(1308.3,2978.6) scale(0.9350,1)" font-size="69.5" letter-spacing="4.5" fill="#101014" stroke="#101014" stroke-width="1.5">0.0</text>
<rect x="1500.6" y="2894.0" width="278.7" height="108.0" fill="#3CCE50"/>
<text transform="translate(1593.1,2978.6) scale(0.9350,1)" font-size="69.5" letter-spacing="4.5" fill="#101014" stroke="#101014" stroke-width="1.5">0.0</text>
<rect x="1784.5" y="2894.0" width="271.3" height="108.0" fill="#3CCE50"/>
<text transform="translate(1877.3,2978.6) scale(0.9350,1)" font-size="69.5" letter-spacing="4.5" fill="#101014" stroke="#101014" stroke-width="1.5">0.0</text>
<rect x="2061.0" y="2894.0" width="278.4" height="108.0" fill="#3CCE50"/>
<text transform="translate(2153.8,2978.6) scale(0.9350,1)" font-size="69.5" letter-spacing="4.5" fill="#101014" stroke="#101014" stroke-width="1.5">0.0</text>
<rect x="2344.6" y="2894.0" width="272.9" height="108.0" fill="#3CCE50"/>
<text transform="translate(2437.7,2978.6) scale(0.9350,1)" font-size="69.5" letter-spacing="4.5" fill="#101014" stroke="#101014" stroke-width="1.5">0.0</text>
<rect x="650.0" y="3007.0" width="274.0" height="108.5" fill="url(#gr1)"/>
<text transform="translate(755.5,3092.1) scale(0.9350,1)" font-size="69.5" letter-spacing="4.5" fill="#FFFFFF" stroke="#FFFFFF" stroke-width="1.7">20</text>
<rect x="934.0" y="3007.0" width="277.7" height="108.5" fill="#3CCE50"/>
<text transform="translate(1026.5,3092.1) scale(0.9350,1)" font-size="69.5" letter-spacing="4.5" fill="#101014" stroke="#101014" stroke-width="1.5">0.0</text>
<rect x="1216.9" y="3007.0" width="278.5" height="108.5" fill="#808080"/>
<rect x="1500.6" y="3007.0" width="278.7" height="108.5" fill="#E0D424"/>
<text transform="translate(1571.8,3092.1) scale(0.9350,1)" font-size="69.5" letter-spacing="4.5" fill="#101014" stroke="#101014" stroke-width="1.5">15.1</text>
<rect x="1784.5" y="3007.0" width="271.3" height="108.5" fill="#77CC3E"/>
<text transform="translate(1877.3,3092.1) scale(0.9350,1)" font-size="69.5" letter-spacing="4.5" fill="#101014" stroke="#101014" stroke-width="1.5">6.2</text>
<rect x="2061.0" y="3007.0" width="278.4" height="108.5" fill="#66CC42"/>
<text transform="translate(2154.8,3092.1) scale(0.9350,1)" font-size="69.5" letter-spacing="4.5" fill="#101014" stroke="#101014" stroke-width="1.5">4.7</text>
<rect x="2344.6" y="3007.0" width="272.9" height="108.5" fill="#3CCE50"/>
<text transform="translate(2437.7,3092.1) scale(0.9350,1)" font-size="69.5" letter-spacing="4.5" fill="#101014" stroke="#101014" stroke-width="1.5">0.0</text>
<rect x="650.0" y="3120.5" width="274.0" height="108.3" fill="url(#gr2)"/>
<text transform="translate(755.5,3205.4) scale(0.9350,1)" font-size="69.5" letter-spacing="4.5" fill="#FFFFFF" stroke="#FFFFFF" stroke-width="1.7">40</text>
<rect x="934.0" y="3120.5" width="277.7" height="108.3" fill="#3CCE50"/>
<text transform="translate(1026.5,3205.4) scale(0.9350,1)" font-size="69.5" letter-spacing="4.5" fill="#101014" stroke="#101014" stroke-width="1.5">0.0</text>
<rect x="1216.9" y="3120.5" width="278.5" height="108.3" fill="#90CC38"/>
<text transform="translate(1308.3,3205.4) scale(0.9350,1)" font-size="69.5" letter-spacing="4.5" fill="#101014" stroke="#101014" stroke-width="1.5">8.0</text>
<rect x="1500.6" y="3120.5" width="278.7" height="108.3" fill="#808080"/>
<rect x="1784.5" y="3120.5" width="271.3" height="108.3" fill="#F28B22"/>
<text transform="translate(1857.0,3205.4) scale(0.9350,1)" font-size="69.5" letter-spacing="4.5" fill="#101014" stroke="#101014" stroke-width="1.5">28.2</text>
<rect x="2061.0" y="3120.5" width="278.4" height="108.3" fill="#B2D030"/>
<text transform="translate(2134.8,3205.4) scale(0.9350,1)" font-size="69.5" letter-spacing="4.5" fill="#101014" stroke="#101014" stroke-width="1.5">11.3</text>
<rect x="2344.6" y="3120.5" width="272.9" height="108.3" fill="#3CCE50"/>
<text transform="translate(2437.7,3205.4) scale(0.9350,1)" font-size="69.5" letter-spacing="4.5" fill="#101014" stroke="#101014" stroke-width="1.5">0.0</text>
<rect x="650.0" y="3233.8" width="274.0" height="108.2" fill="url(#gr3)"/>
<text transform="translate(755.5,3318.6) scale(0.9350,1)" font-size="69.5" letter-spacing="4.5" fill="#1A1A1A" stroke="#1A1A1A" stroke-width="1.5">60</text>
<rect x="934.0" y="3233.8" width="277.7" height="108.2" fill="#3CCE50"/>
<text transform="translate(1026.5,3318.6) scale(0.9350,1)" font-size="69.5" letter-spacing="4.5" fill="#101014" stroke="#101014" stroke-width="1.5">0.0</text>
<rect x="1216.9" y="3233.8" width="278.5" height="108.2" fill="#3CCE50"/>
<text transform="translate(1308.3,3318.6) scale(0.9350,1)" font-size="69.5" letter-spacing="4.5" fill="#101014" stroke="#101014" stroke-width="1.5">0.0</text>
<rect x="1500.6" y="3233.8" width="278.7" height="108.2" fill="#E8D024"/>
<text transform="translate(1571.8,3318.6) scale(0.9350,1)" font-size="69.5" letter-spacing="4.5" fill="#101014" stroke="#101014" stroke-width="1.5">16.6</text>
<rect x="1784.5" y="3233.8" width="271.3" height="108.2" fill="#808080"/>
<rect x="2061.0" y="3233.8" width="278.4" height="108.2" fill="#F28A22"/>
<text transform="translate(2132.9,3318.6) scale(0.9350,1)" font-size="69.5" letter-spacing="4.5" fill="#101014" stroke="#101014" stroke-width="1.5">28.4</text>
<rect x="2344.6" y="3233.8" width="272.9" height="108.2" fill="#3CCE50"/>
<text transform="translate(2437.7,3318.6) scale(0.9350,1)" font-size="69.5" letter-spacing="4.5" fill="#101014" stroke="#101014" stroke-width="1.5">0.0</text>
<rect x="650.0" y="3347.0" width="274.0" height="108.2" fill="url(#gr4)"/>
<text transform="translate(755.8,3431.8) scale(0.9350,1)" font-size="69.5" letter-spacing="4.5" fill="#1A1A1A" stroke="#1A1A1A" stroke-width="1.5">80</text>
<rect x="934.0" y="3347.0" width="277.7" height="108.2" fill="#3CCE50"/>
<text transform="translate(1026.5,3431.8) scale(0.9350,1)" font-size="69.5" letter-spacing="4.5" fill="#101014" stroke="#101014" stroke-width="1.5">0.0</text>
<rect x="1216.9" y="3347.0" width="278.5" height="108.2" fill="#3CCE50"/>
<text transform="translate(1308.3,3431.8) scale(0.9350,1)" font-size="69.5" letter-spacing="4.5" fill="#101014" stroke="#101014" stroke-width="1.5">0.0</text>
<rect x="1500.6" y="3347.0" width="278.7" height="108.2" fill="#B4D030"/>
<text transform="translate(1574.1,3431.8) scale(0.9350,1)" font-size="69.5" letter-spacing="4.5" fill="#101014" stroke="#101014" stroke-width="1.5">11.5</text>
<rect x="1784.5" y="3347.0" width="271.3" height="108.2" fill="#CCD229"/>
<text transform="translate(1856.0,3431.8) scale(0.9350,1)" font-size="69.5" letter-spacing="4.5" fill="#101014" stroke="#101014" stroke-width="1.5">13.5</text>
<rect x="2061.0" y="3347.0" width="278.4" height="108.2" fill="#808080"/>
<rect x="2344.6" y="3347.0" width="272.9" height="108.2" fill="#52CC48"/>
<text transform="translate(2437.4,3431.8) scale(0.9350,1)" font-size="69.5" letter-spacing="4.5" fill="#101014" stroke="#101014" stroke-width="1.5">2.5</text>
<rect x="650.0" y="3460.2" width="274.0" height="107.8" fill="#FFFFFF"/>
<text transform="translate(730.7,3543.7) scale(0.9350,1)" font-size="69.5" letter-spacing="4.5" fill="#1A1A1A" stroke="#1A1A1A" stroke-width="1.5">100</text>
<rect x="934.0" y="3460.2" width="277.7" height="107.8" fill="#3CCE50"/>
<text transform="translate(1026.5,3543.7) scale(0.9350,1)" font-size="69.5" letter-spacing="4.5" fill="#101014" stroke="#101014" stroke-width="1.5">0.0</text>
<rect x="1216.9" y="3460.2" width="278.5" height="107.8" fill="#3CCE50"/>
<text transform="translate(1308.3,3543.7) scale(0.9350,1)" font-size="69.5" letter-spacing="4.5" fill="#101014" stroke="#101014" stroke-width="1.5">0.0</text>
<rect x="1500.6" y="3460.2" width="278.7" height="107.8" fill="#92CC38"/>
<text transform="translate(1593.4,3543.7) scale(0.9350,1)" font-size="69.5" letter-spacing="4.5" fill="#101014" stroke="#101014" stroke-width="1.5">8.2</text>
<rect x="1784.5" y="3460.2" width="271.3" height="107.8" fill="#92CC38"/>
<text transform="translate(1877.6,3543.7) scale(0.9350,1)" font-size="69.5" letter-spacing="4.5" fill="#101014" stroke="#101014" stroke-width="1.5">8.2</text>
<rect x="2061.0" y="3460.2" width="278.4" height="107.8" fill="#3CCE50"/>
<text transform="translate(2153.8,3543.7) scale(0.9350,1)" font-size="69.5" letter-spacing="4.5" fill="#101014" stroke="#101014" stroke-width="1.5">0.0</text>
<rect x="2344.6" y="3460.2" width="272.9" height="107.8" fill="#808080"/>
<text transform="translate(463.0,2738.0) scale(1.0707,1)" font-size="69.0" fill="#101014" font-weight="bold" stroke="#FFFFFF" stroke-width="0.5">Overshoot</text>
<text transform="translate(495.4,2851.5) scale(1.0438,1)" font-size="69.0" fill="#101014" font-weight="bold" stroke="#FFFFFF" stroke-width="0.5">Error (%)</text>
<text transform="translate(1589.6,2739.0) scale(1.0332,1)" font-size="69.0" fill="#101014" font-weight="bold" stroke="#D6DCE4" stroke-width="0.5">To #% Gray</text>
<text transform="translate(530.8,3469.1) rotate(-90) scale(0.9331,1)" font-size="75.5" font-weight="bold" fill="#101014" stroke="#101014" stroke-width="2.0">From #% Gray</text>
<rect x="2627.3" y="3002.0" width="837.5" height="5.0" fill="#000"/>
<rect x="2627.3" y="3115.9" width="837.5" height="5.0" fill="#000"/>
<rect x="2627.3" y="3228.3" width="837.5" height="5.0" fill="#000"/>
<rect x="3098.6" y="3002.0" width="5.0" height="231.3" fill="#000"/>
<rect x="3459.8" y="3002.0" width="5.0" height="231.3" fill="#000"/>
<rect x="3103.6" y="3007.0" width="356.2" height="108.9" fill="#6CCC40"/>
<text transform="translate(3234.7,3092.6) scale(1.0000,1)" font-size="69.0" fill="#101014" font-weight="bold" stroke="#6CCC40" stroke-width="0.5">5.4</text>
<text transform="translate(2785.4,3091.2) scale(1.0405,1)" font-size="69.0" fill="#101014" font-weight="bold" stroke="#FFFFFF" stroke-width="0.5">Avg:</text>
<rect x="3103.6" y="3120.9" width="356.2" height="107.4" fill="#EFA223"/>
<text transform="translate(3215.7,3204.6) scale(1.0000,1)" font-size="69.0" fill="#101014" font-weight="bold" stroke="#EFA223" stroke-width="0.5">24.4</text>
<text transform="translate(2649.0,3204.5) scale(1.0518,1)" font-size="69.0" fill="#101014" font-weight="bold" stroke="#FFFFFF" stroke-width="0.5">Worst 3 Avg:</text>
</svg>
</div>
</body></html>
